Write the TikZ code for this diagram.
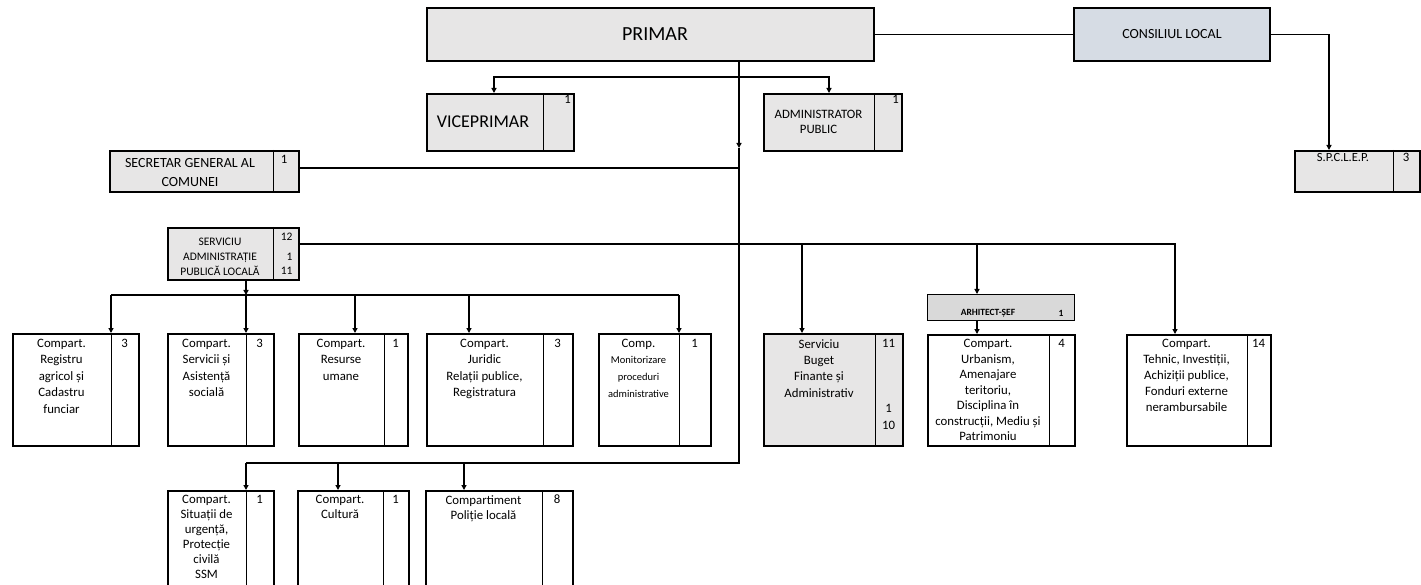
\documentclass[tikz,border=0pt]{standalone}
\usepackage{fontspec}
\setmainfont{Carlito}
\usetikzlibrary{arrows.meta,calc}
\definecolor{cellgray}{HTML}{E7E6E6}
\definecolor{cellblue}{HTML}{D6DCE4}
\definecolor{headgray}{HTML}{D9D9D9}

\begin{document}
\begin{tikzpicture}[x=1pt,y=-1pt,
    >={Triangle[length=5pt,width=5pt]},
    cell/.style={draw,line width=2pt,anchor=north west,inner sep=0pt},
    gcell/.style={cell,fill=cellgray},
    divline/.style={line width=0.8pt},
    txt/.style={anchor=north,align=center,inner sep=0pt,font=\fontsize{12.8}{16.4}\selectfont},
    num/.style={txt},
    link/.style={line width=1.6pt}]

  \useasboundingbox (0,0) rectangle (1421,585);

  % conducere
  \node[gcell,minimum width=447,minimum height=53] (primar) at (426,7) {};
  \node[font=\fontsize{20}{24}\selectfont] at (655,34) {PRIMAR};
  \node[cell,fill=cellblue,minimum width=196,minimum height=53,font=\fontsize{14}{17}\selectfont] (consiliu) at (1073,7) {CONSILIUL LOCAL};

  \node[gcell,minimum width=147,minimum height=57] (vice) at (426,93) {};
  \draw[divline] (543,93) -- (543,150);
  \node[font=\fontsize{18}{21}\selectfont] at (483,122) {VICEPRIMAR};
  \node[num,anchor=north east] at (571,95) {1};

  \node[gcell,minimum width=138,minimum height=57] (admin) at (763,93) {};
  \draw[divline] (874,93) -- (874,150);
  \node[txt,font=\fontsize{12.8}{15}\selectfont] at (818.5,110) {ADMINISTRATOR\\PUBLIC};
  \node[num,anchor=north east] at (899,95) {1};

  \node[gcell,minimum width=189,minimum height=41] (secr) at (109,150) {};
  \draw[divline] (273,150) -- (273,191);
  \node[txt,font=\fontsize{14}{19}\selectfont] at (190,158) {SECRETAR GENERAL AL\\COMUNEI};
  \node[num] at (284,155) {1};

  \node[gcell,minimum width=125,minimum height=41] (spclep) at (1294,150) {};
  \draw[divline] (1393,150) -- (1393,191);
  \node[txt,font=\fontsize{12.5}{14}\selectfont] at (1343,153) {S.P.C.L.E.P.};
  \node[num] at (1406,153) {3};

  \node[gcell,minimum width=131,minimum height=52] (serv) at (167,227) {};
  \draw[divline] (273,227) -- (273,279);
  \node[txt,font=\fontsize{11.5}{15}\selectfont] at (220,238) {SERVICIU\\ADMINISTRAȚIE\\PUBLICĂ LOCALĂ};
  \node[anchor=east,font=\fontsize{11.5}{13}\selectfont] at (296,237) {12};
  \node[anchor=east,font=\fontsize{11.5}{13}\selectfont] at (296,257) {1};
  \node[anchor=east,font=\fontsize{11.5}{13}\selectfont] at (296,271) {11};

  \node[draw,line width=0.8pt,fill=headgray,anchor=north west,inner sep=0pt,minimum width=147,minimum height=26] (arh) at (927,294) {};
  \node[font=\bfseries\fontsize{9.5}{11}\selectfont] at (988,313) {ARHITECT-ȘEF};
  \node[font=\bfseries\fontsize{9.5}{11}\selectfont] at (1061,313) {1};

  % compartimente
  \node[cell,minimum width=126,minimum height=112] (reg) at (12,333) {};
  \draw[divline] (111,333) -- (111,445);
  \node[txt] at (61.5,339) {Compart.\\Registru\\agricol și\\Cadastru\\funciar};
  \node[num] at (124.5,339) {3};

  \node[cell,minimum width=106,minimum height=112] (soc) at (167,333) {};
  \draw[divline] (246,333) -- (246,445);
  \node[txt] at (206.5,339) {Compart.\\Servicii și\\Asistență\\socială};
  \node[num] at (259.5,339) {3};

  \node[cell,minimum width=109,minimum height=112] (ru) at (298,333) {};
  \draw[divline] (384,333) -- (384,445);
  \node[txt] at (341,339) {Compart.\\Resurse\\umane};
  \node[num] at (395.5,339) {1};

  \node[cell,minimum width=146,minimum height=112] (jur) at (426,333) {};
  \draw[divline] (543,333) -- (543,445);
  \node[txt] at (484.5,339) {Compart.\\Juridic\\Relații publice,\\Registratura};
  \node[num] at (557.5,339) {3};

  \node[cell,minimum width=112,minimum height=112] (mon) at (598,333) {};
  \draw[divline] (679,333) -- (679,445);
  \node[txt] at (638.5,339) {Comp.};
  \node[txt,font=\fontsize{10.5}{16.6}\selectfont] at (638.5,356.5) {Monitorizare\\proceduri\\administrative};
  \node[num] at (694.5,339) {1};

  \node[gcell,minimum width=139,minimum height=112] (buget) at (763,333) {};
  \draw[divline] (875,333) -- (875,445);
  \node[txt] at (819,339) {Serviciu\\Buget\\Finante și\\Administrativ};
  \node[num] at (888.5,339) {11};
  \node[num] at (888.5,404) {1};
  \node[num] at (888.5,421) {10};

  \node[cell,minimum width=147,minimum height=111] (urb) at (927,334) {};
  \draw[divline] (1049,334) -- (1049,445);
  \node[txt,font=\fontsize{12.8}{15.5}\selectfont] at (988,339) {Compart.\\Urbanism,\\Amenajare\\teritoriu,\\Disciplina în\\construcții, Mediu și\\Patrimoniu};
  \node[num] at (1061.5,339) {4};

  \node[cell,minimum width=144,minimum height=111] (teh) at (1126,334) {};
  \draw[divline] (1247,334) -- (1247,445);
  \node[txt,font=\fontsize{12.8}{16}\selectfont] at (1186.5,339) {Compart.\\Tehnic, Investiții,\\Achiziții publice,\\Fonduri externe\\nerambursabile};
  \node[num] at (1258.5,339) {14};

  \node[cell,minimum width=106,minimum height=100] (ssm) at (167,490) {};
  \draw[divline] (246,490) -- (246,590);
  \node[txt,font=\fontsize{12.8}{15}\selectfont] at (206.5,495) {Compart.\\Situații de\\urgență,\\Protecție\\civilă\\SSM};
  \node[num] at (259.5,495) {1};

  \node[cell,minimum width=111,minimum height=100] (cult) at (297,490) {};
  \draw[divline] (383,490) -- (383,590);
  \node[txt,font=\fontsize{12.8}{15}\selectfont] at (340,495) {Compart.\\Cultură};
  \node[num] at (395.5,495) {1};

  \node[cell,minimum width=147,minimum height=100] (pol) at (425,490) {};
  \draw[divline] (542,490) -- (542,590);
  \node[txt,font=\fontsize{12.8}{15}\selectfont] at (483.5,495) {Compartiment\\Poliție locală};
  \node[num] at (557,495) {8};

  % legaturi
  \coordinate (trunk) at (739,148);
  \coordinate (lowbar) at (246,463);
  \coordinate (hub) at (739,77);
  \coordinate (pVice) at (494,93);
  \coordinate (pAdm) at (829,93);
  \coordinate (pSpc) at (1329,150);
  \coordinate (sbar) at ([yshift=10pt]serv.east);
  \coordinate (bar1) at (111,295);
  \coordinate (pReg) at (111,333);
  \coordinate (pSoc) at (246,333);
  \coordinate (pRu) at (355,333);
  \coordinate (pJur) at (469,333);
  \coordinate (pMon) at (679,333);
  \coordinate (pBug) at (802,333);
  \coordinate (pArh) at (977,294);
  \coordinate (pUrb) at (977,334);
  \coordinate (pTeh) at (1175,334);
  \coordinate (pSsm) at (246,490);
  \coordinate (pCult) at (338,490);
  \coordinate (pPol) at (464,490);

  \draw[link] (primar.east) -- (consiliu.west);
  \draw[link,->] (consiliu.east) -| (pSpc);
  \draw[link,->] (primar.south -| trunk) -- (trunk);
  \draw[link] (trunk) -- (trunk |- lowbar) -- (lowbar);
  \draw[link,->] (hub) -| (pVice);
  \draw[link,->] (hub) -| (pAdm);
  \draw[link] ([yshift=3.5pt]secr.east) -- ([yshift=3.5pt]secr.east -| trunk);

  \draw[link,->] (sbar) -| (pTeh);
  \draw[link,->] (sbar -| pBug) -- (pBug);
  \draw[link,->] (sbar -| pArh) -- (pArh);
  \draw[link,->] (arh.south -| pUrb) -- (pUrb);

  \draw[link,->] (serv.south -| pSoc) -- (pSoc |- bar1);
  \draw[link] (bar1) -- (bar1 -| pMon);
  \draw[link,->] (bar1) -- (pReg);
  \draw[link,->] (pSoc |- bar1) -- (pSoc);
  \draw[link,->] (pRu |- bar1) -- (pRu);
  \draw[link,->] (pJur |- bar1) -- (pJur);
  \draw[link,->] (pMon |- bar1) -- (pMon);

  \draw[link,->] (lowbar) -- (pSsm);
  \draw[link,->] (lowbar -| pCult) -- (pCult);
  \draw[link,->] (lowbar -| pPol) -- (pPol);
\end{tikzpicture}
\end{document}
